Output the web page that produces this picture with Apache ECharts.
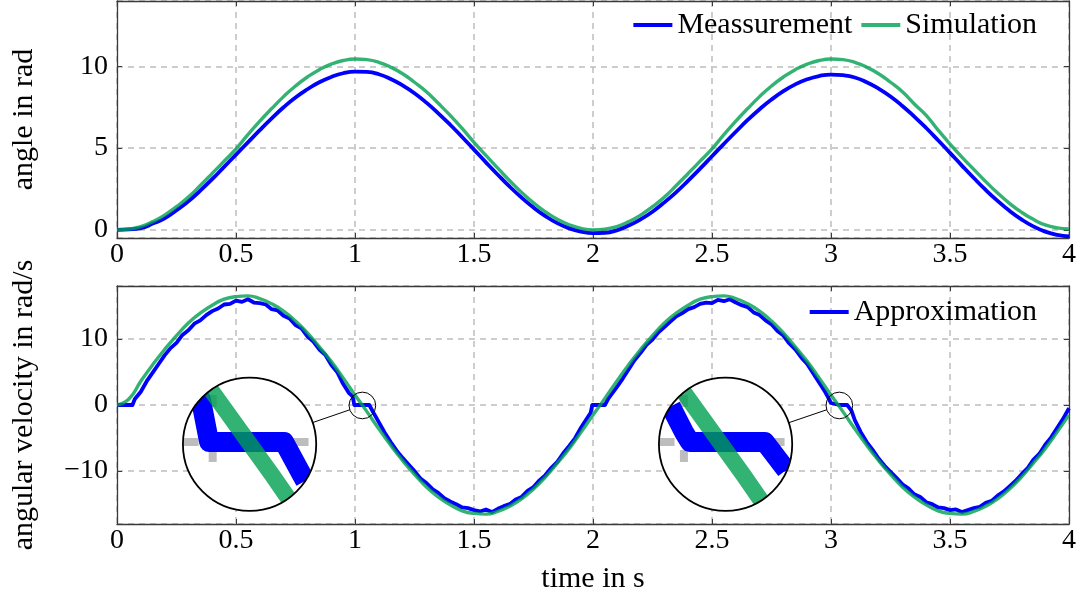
<!DOCTYPE html>
<html>
<head>
<meta charset="utf-8">
<script src="https://cdn.jsdelivr.net/npm/echarts@6.0.0/dist/echarts.min.js"></script>
<style>
  html, body { margin: 0; padding: 0; background: #fff; }
  #main { width: 1079px; height: 601px; }
</style>
</head>
<body>
<div id="main"></div>
<script>
// angle plot (top), sampled every 0.05 s
var angleTime = [0, 0.05, 0.1, 0.15, 0.2, 0.25, 0.3, 0.35, 0.4, 0.45,
  0.5, 0.55, 0.6, 0.65, 0.7, 0.75, 0.8, 0.85, 0.9, 0.95,
  1.0, 1.05, 1.1, 1.15, 1.2, 1.25, 1.3, 1.35, 1.4, 1.45,
  1.5, 1.55, 1.6, 1.65, 1.7, 1.75, 1.8, 1.85, 1.9, 1.95,
  2.0, 2.05, 2.1, 2.15, 2.2, 2.25, 2.3, 2.35, 2.4, 2.45,
  2.5, 2.55, 2.6, 2.65, 2.7, 2.75, 2.8, 2.85, 2.9, 2.95,
  3.0, 3.05, 3.1, 3.15, 3.2, 3.25, 3.3, 3.35, 3.4, 3.45,
  3.5, 3.55, 3.6, 3.65, 3.7, 3.75, 3.8, 3.85, 3.9, 3.95, 4.0];
var angleMeas = [0, 0.03, 0.1, 0.38, 0.7, 1.2, 1.75, 2.4, 3.1, 3.85,
  4.6, 5.35, 6.1, 6.82, 7.5, 8.1, 8.6, 9.03, 9.35, 9.58,
  9.68, 9.66, 9.52, 9.23, 8.84, 8.36, 7.78, 7.13, 6.43, 5.68,
  4.91, 4.13, 3.37, 2.64, 1.97, 1.36, 0.84, 0.41, 0.09, -0.11,
  -0.2, -0.18, -0.03, 0.26, 0.64, 1.11, 1.68, 2.31, 3.01, 3.74,
  4.5, 5.26, 6.0, 6.72, 7.38, 7.97, 8.48, 8.9, 9.21, 9.41,
  9.5, 9.46, 9.32, 9.03, 8.64, 8.16, 7.58, 6.93, 6.23, 5.48,
  4.71, 3.93, 3.17, 2.44, 1.77, 1.16, 0.64, 0.21, -0.11, -0.31, -0.4];
var angleSim = [0, 0.04, 0.2, 0.5, 0.9, 1.42, 2.0, 2.71, 3.45, 4.2,
  4.95, 5.82, 6.65, 7.42, 8.15, 8.8, 9.35, 9.8, 10.14, 10.36,
  10.45, 10.41, 10.25, 9.95, 9.55, 9.03, 8.45, 7.74, 7.0, 6.2,
  5.35, 4.55, 3.77, 3.0, 2.29, 1.65, 1.1, 0.65, 0.31, 0.09,
  0.0, 0.04, 0.2, 0.5, 0.9, 1.42, 2.0, 2.71, 3.45, 4.2,
  4.95, 5.82, 6.65, 7.42, 8.15, 8.8, 9.35, 9.8, 10.14, 10.36,
  10.45, 10.41, 10.25, 9.95, 9.55, 9.03, 8.45, 7.7, 7.0, 6.1,
  5.25, 4.45, 3.7, 2.95, 2.25, 1.62, 1.08, 0.64, 0.3, 0.12, 0.05];

// angular velocity (bottom), simulation every 0.05 s
var velSimTime = angleTime;
var velSim = [0, 0.9, 3.6, 6.1, 8.4, 10.5, 12.4, 13.9, 15.1, 16.0,
  16.4, 16.5, 16.1, 15.3, 14.2, 12.7, 10.9, 8.8, 6.6, 4.1,
  1.5, -1.0, -3.6, -6.1, -8.4, -10.5, -12.4, -13.9, -15.1, -16.0,
  -16.4, -16.5, -16.1, -15.3, -14.2, -12.7, -10.9, -8.8, -6.6, -4.1,
  -1.5, 1.0, 3.6, 6.1, 8.4, 10.5, 12.4, 13.9, 15.1, 16.0,
  16.4, 16.5, 16.1, 15.3, 14.2, 12.7, 10.9, 8.8, 6.6, 4.1,
  1.5, -1.0, -3.6, -6.1, -8.4, -10.5, -12.4, -13.9, -15.1, -16.0,
  -16.4, -16.5, -16.1, -15.3, -14.2, -12.7, -10.9, -8.8, -6.6, -4.1, -1.5];

// approximation from measurement (noisy, sticks at zero near reversal)
var approxTime = [0, 0.025, 0.05, 0.065, 0.075, 0.1, 0.125, 0.15, 0.175, 0.2, 0.225, 0.25, 0.275, 0.3, 0.325, 0.35, 0.375, 0.4, 0.425, 0.45, 0.475,
  0.5, 0.525, 0.55, 0.575, 0.6, 0.625, 0.65, 0.675, 0.7, 0.725, 0.75, 0.775, 0.8, 0.825, 0.85, 0.875, 0.9, 0.925, 0.95, 0.975,
  0.99, 0.997, 1.025, 1.06, 1.075, 1.1, 1.125, 1.15, 1.175, 1.2, 1.225, 1.25, 1.275, 1.3, 1.325, 1.35, 1.375, 1.4, 1.425, 1.45, 1.475,
  1.5, 1.525, 1.55, 1.575, 1.6, 1.625, 1.65, 1.675, 1.7, 1.725, 1.75, 1.775, 1.8, 1.825, 1.85, 1.875, 1.9, 1.925, 1.95, 1.975,
  1.99, 1.997, 2.025, 2.05, 2.065, 2.1, 2.125, 2.15, 2.175, 2.2, 2.225, 2.25, 2.275, 2.3, 2.325, 2.35, 2.375, 2.4, 2.425, 2.45, 2.475,
  2.5, 2.525, 2.55, 2.575, 2.6, 2.625, 2.65, 2.675, 2.7, 2.725, 2.75, 2.775, 2.8, 2.825, 2.85, 2.875, 2.9, 2.925, 2.95, 2.975,
  2.985, 3.0, 3.005, 3.035, 3.068, 3.086, 3.1, 3.125, 3.15, 3.175, 3.2, 3.225, 3.25, 3.275, 3.3, 3.325, 3.35, 3.375, 3.4, 3.425, 3.45, 3.475,
  3.5, 3.525, 3.55, 3.575, 3.6, 3.625, 3.65, 3.675, 3.7, 3.725, 3.75, 3.775, 3.8, 3.825, 3.85, 3.875, 3.9, 3.925, 3.95, 3.975, 4.0];
var approxVel = [0, 0, 0, 0, 0.9, 2.0, 3.6, 4.9, 6.2, 7.5, 8.6, 9.4, 10.6, 11.3, 12.3, 12.8, 13.6, 14.2, 14.6, 15.2, 15.3,
  15.8, 15.6, 16.0, 15.5, 15.4, 15.2, 14.5, 14.3, 13.5, 13.1, 12.1, 11.6, 10.4, 9.6, 8.4, 7.6, 6.1, 5.0, 3.2, 1.8,
  1.3, 0, 0, 0, -1.0, -2.6, -4.2, -5.6, -6.9, -8.0, -9.0, -10.0, -11.1, -11.8, -12.7, -13.3, -14.1, -14.6, -15.0, -15.5, -15.6,
  -15.9, -16.1, -15.8, -16.2, -15.7, -15.3, -15.0, -14.3, -13.9, -13.0, -12.4, -11.4, -10.6, -9.5, -8.6, -7.3, -6.2, -5.0, -3.4, -2.0,
  -1.2, 0, 0, 0, 1.0, 2.7, 4.0, 5.4, 6.8, 7.9, 9.1, 9.9, 11.0, 11.8, 12.6, 13.4, 13.9, 14.5, 14.8, 15.3, 15.5,
  15.4, 15.9, 15.7, 16.0, 15.5, 15.1, 14.8, 14.0, 13.6, 12.8, 12.2, 11.2, 10.5, 9.3, 8.4, 7.2, 6.2, 4.8, 3.4, 2.0,
  1.35, 0.3, 0, 0, 0, -0.85, -2.3, -4.1, -5.6, -6.8, -8.1, -9.2, -10.1, -11.0, -12.0, -12.6, -13.5, -13.9, -14.7, -15.0, -15.5, -15.6,
  -15.9, -15.8, -16.2, -15.9, -15.6, -15.4, -14.8, -14.5, -13.7, -13.1, -12.3, -11.5, -10.5, -9.6, -8.3, -7.4, -6.0, -4.9, -3.5, -2.1, -0.5];

// magnifier lenses: [t, v] of the spot, [t, v] where the lens is drawn
var zoomSpots = [[1.031, -0.07], [3.035, -0.07]];
var zoomLenses = [[0.557, -5.94], [2.557, -5.94]];
var zoomRadius = 0.056;   // in seconds
var zoomFactor = 5;

var FONT = '"Liberation Serif", "DejaVu Serif", serif';
var BLUE = '#0000ff';
var GREEN = 'rgba(0,160,80,0.8)';
var GRIDC = '#bdbdbd';
var FRAME = '#3a3a3a';

function pairs(xs, ys) {
  return xs.map(function (x, i) { return [x, ys[i]]; });
}

function tickFmt(step) {
  return function (v) {
    if (Math.abs(v / step - Math.round(v / step)) > 1e-6) return '';
    return String(v).replace('-', '\u2212');
  };
}

// clip a polyline (pixels) to a circle, returns list of pieces
function clipCircle(pts, cx, cy, r) {
  var out = [], cur = null;
  for (var i = 0; i < pts.length - 1; i++) {
    var a = pts[i], b = pts[i + 1];
    var dx = b[0] - a[0], dy = b[1] - a[1];
    var fx = a[0] - cx, fy = a[1] - cy;
    var A = dx * dx + dy * dy, B = 2 * (fx * dx + fy * dy), C = fx * fx + fy * fy - r * r;
    var disc = B * B - 4 * A * C;
    if (A === 0 || disc <= 0) { cur = null; continue; }
    var sq = Math.sqrt(disc);
    var t0 = Math.max(0, (-B - sq) / (2 * A)), t1 = Math.min(1, (-B + sq) / (2 * A));
    if (t0 >= t1) { cur = null; continue; }
    var p0 = [a[0] + dx * t0, a[1] + dy * t0], p1 = [a[0] + dx * t1, a[1] + dy * t1];
    if (!cur || t0 > 0) { cur = [p0]; out.push(cur); }
    cur.push(p1);
    if (t1 < 1) cur = null;
  }
  return out;
}

function renderLens(params, api) {
  var tc = api.value(0), vc = api.value(1), tb = api.value(2), vb = api.value(3);
  var s = api.coord([tc, vc]), b = api.coord([tb, vb]);
  var rs = api.size([zoomRadius, 0])[0];
  var R = rs * zoomFactor;
  function lens(t, v) {
    var p = api.coord([t, v]);
    return [b[0] + (p[0] - s[0]) * zoomFactor, b[1] + (p[1] - s[1]) * zoomFactor];
  }
  function near(ts, vs) {
    var pts = [];
    for (var i = 0; i < ts.length; i++) {
      if (Math.abs(ts[i] - tc) < 0.12) pts.push(lens(ts[i], vs[i]));
    }
    return pts;
  }
  function lines(pts, style) {
    return clipCircle(pts, b[0], b[1], R).map(function (p) {
      return { type: 'polyline', shape: { points: p }, style: style };
    });
  }
  // magnified grid lines (dashes scaled up as well)
  var tg = Math.round(tc * 2) / 2;
  var h0 = lens(tc - 0.1, 0), h1 = lens(tc + 0.1, 0);
  var v0 = lens(tg, vc + 3), v1 = lens(tg, vc - 3);
  var inner = [
    { type: 'line', shape: { x1: h0[0], y1: h0[1], x2: h1[0], y2: h1[1] },
      style: { stroke: GRIDC, lineWidth: 8, lineDash: [30, 25], lineDashOffset: 17 } },
    { type: 'line', shape: { x1: v0[0], y1: v0[1], x2: v1[0], y2: v1[1] },
      style: { stroke: GRIDC, lineWidth: 8, lineDash: [12, 43], lineDashOffset: 5 } }
  ];
  inner = inner.concat(lines(near(approxTime, approxVel),
    { stroke: BLUE, lineWidth: 20, fill: 'none', lineJoin: 'round', lineCap: 'butt' }));
  inner = inner.concat(lines(near(velSimTime, velSim),
    { stroke: GREEN, lineWidth: 16.5, fill: 'none', lineJoin: 'round', lineCap: 'butt' }));

  var dx = s[0] - b[0], dy = s[1] - b[1], d = Math.sqrt(dx * dx + dy * dy);
  var ux = dx / d, uy = dy / d;
  return {
    type: 'group',
    children: [
      { type: 'line', shape: { x1: b[0] + ux * R, y1: b[1] + uy * R, x2: s[0] - ux * rs, y2: s[1] - uy * rs },
        style: { stroke: '#000', lineWidth: 1 } },
      { type: 'circle', shape: { cx: b[0], cy: b[1], r: R }, style: { fill: '#fff', stroke: 'none' } },
      { type: 'group', clipPath: { type: 'circle', shape: { cx: b[0], cy: b[1], r: R } }, children: inner },
      { type: 'circle', shape: { cx: b[0], cy: b[1], r: R }, style: { fill: 'none', stroke: '#000', lineWidth: 1.8 } },
      { type: 'circle', shape: { cx: s[0], cy: s[1], r: rs }, style: { fill: 'none', stroke: '#000', lineWidth: 1 } }
    ]
  };
}

var axisLineStyle = { show: true, onZero: false, lineStyle: { color: FRAME, width: 1.3 } };
var tickStyle = { show: true, inside: true, length: 5, lineStyle: { color: FRAME, width: 1 } };
var splitStyle = { show: true, lineStyle: { color: GRIDC, width: 1.5, type: [6, 5] } };
var labelStyle = { color: '#000', fontSize: 28, fontFamily: FONT };
var nameStyle = { color: '#000', fontSize: 30, fontFamily: FONT };

function xMain(grid, name) {
  return {
    type: 'value', gridIndex: grid, position: 'bottom', min: 0, max: 4, interval: 0.5,
    axisLine: axisLineStyle, axisTick: tickStyle, splitLine: splitStyle,
    axisLabel: Object.assign({ margin: 3, formatter: function (v) { return String(v); } }, labelStyle),
    name: name || '', nameLocation: 'middle', nameGap: 40, nameTextStyle: nameStyle
  };
}
function xTop(grid) {
  return {
    type: 'value', gridIndex: grid, position: 'top', min: 0, max: 4, interval: 0.5,
    axisLine: axisLineStyle, axisTick: tickStyle, splitLine: { show: false }, axisLabel: { show: false }
  };
}
function yMain(grid, min, max, step, name) {
  return {
    type: 'value', gridIndex: grid, position: 'left', min: min, max: max,
    minInterval: step, maxInterval: step,
    axisLine: axisLineStyle, axisTick: tickStyle, splitLine: splitStyle,
    axisLabel: Object.assign({ margin: 9, formatter: tickFmt(step) }, labelStyle),
    name: name, nameLocation: 'middle', nameGap: 78, nameTextStyle: nameStyle
  };
}
function yRight(grid, min, max, step) {
  return {
    type: 'value', gridIndex: grid, position: 'right', min: min, max: max,
    minInterval: step, maxInterval: step,
    axisLine: axisLineStyle, axisTick: tickStyle, splitLine: { show: false }, axisLabel: { show: false }
  };
}

var legendBase = {
  icon: 'rect', itemWidth: 39, itemHeight: 4, itemGap: 9, padding: 0, selectedMode: false,
  textStyle: { color: '#000', fontSize: 30, fontFamily: FONT }
};

var option = {
  animation: false,
  backgroundColor: '#fff',
  textStyle: { fontFamily: FONT },
  grid: [
    { left: 117, top: 1, width: 952, height: 237 },
    { left: 117, top: 286, width: 952, height: 238 }
  ],
  legend: [
    Object.assign({ data: ['Meassurement', 'Simulation'], right: 42, top: 10 }, legendBase),
    Object.assign({ data: ['Approximation'], right: 42, top: 297 }, legendBase)
  ],
  xAxis: [xMain(0), xTop(0), xMain(1, 'time in s'), xTop(1)],
  yAxis: [
    yMain(0, -0.5, 14, 5, 'angle in rad'), yRight(0, -0.5, 14, 5),
    yMain(1, -18, 18, 10, 'angular velocity in rad/s'), yRight(1, -18, 18, 10)
  ],
  series: [
    {
      name: 'Meassurement', type: 'line', xAxisIndex: 0, yAxisIndex: 0,
      data: pairs(angleTime, angleMeas), smooth: true, showSymbol: false,
      itemStyle: { color: BLUE }, lineStyle: { color: BLUE, width: 3.8 }
    },
    {
      name: 'Simulation', type: 'line', xAxisIndex: 0, yAxisIndex: 0,
      data: pairs(angleTime, angleSim), smooth: true, showSymbol: false,
      itemStyle: { color: GREEN }, lineStyle: { color: GREEN, width: 3.4 }
    },
    {
      name: 'Approximation', type: 'line', xAxisIndex: 2, yAxisIndex: 2,
      data: pairs(approxTime, approxVel), showSymbol: false,
      itemStyle: { color: BLUE }, lineStyle: { color: BLUE, width: 3.8, join: 'round' }
    },
    {
      name: 'Simulation velocity', type: 'line', xAxisIndex: 2, yAxisIndex: 2,
      data: pairs(velSimTime, velSim), smooth: true, showSymbol: false,
      itemStyle: { color: GREEN }, lineStyle: { color: GREEN, width: 3.4 }
    },
    {
      name: 'lens', type: 'custom', xAxisIndex: 2, yAxisIndex: 2, z: 10, clip: false,
      data: zoomSpots.map(function (p, i) { return [p[0], p[1], zoomLenses[i][0], zoomLenses[i][1]]; }),
      encode: { x: 0, y: 1 },
      renderItem: renderLens
    }
  ]
};

var chart = echarts.init(document.getElementById('main'));
chart.setOption(option);
</script>
</body>
</html>
